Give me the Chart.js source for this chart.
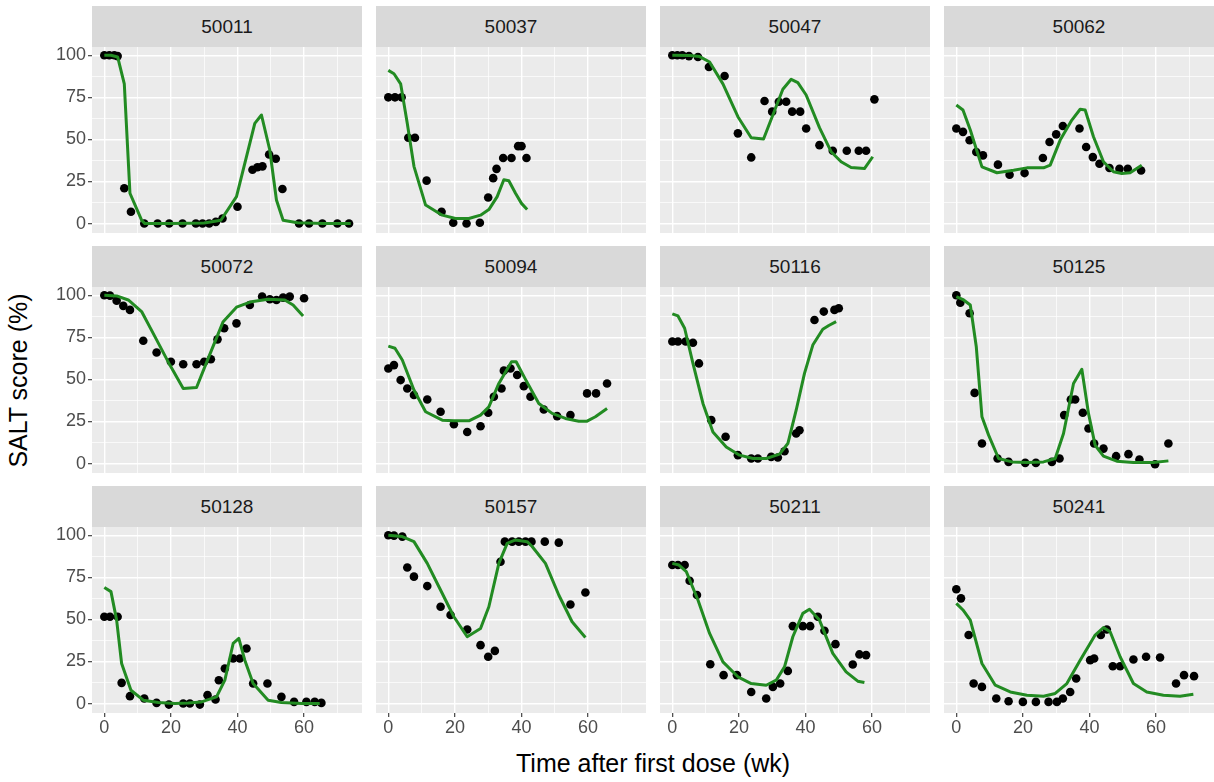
<!DOCTYPE html>
<html><head><meta charset="utf-8">
<script src="https://cdn.jsdelivr.net/npm/chart.js@4"></script>
<style>
body{margin:0;background:#fff;}
#wrap{position:relative;width:1214px;height:782px;overflow:hidden;background:#fff;font-family:"Liberation Sans",Arial,sans-serif;}
.strip{position:absolute;background:#D9D9D9;color:#1A1A1A;font-size:19px;display:flex;align-items:center;justify-content:center;}
canvas{position:absolute;}
.ttl{position:absolute;color:#000;font-size:25px;white-space:nowrap;line-height:1;}
</style></head><body><div id="wrap"></div>
<script>
const panelIds = ['50011','50037','50047','50062','50072','50094','50116','50125','50128','50157','50211','50241'];
const xTickLabels = [0,20,40,60];
const yTickLabels = [0,25,50,75,100];

const obs50011 = [[0,100],[1.5,100],[3,100],[4,99.5],[6,21],[8,7],[12,0],[16,0],[19.5,0],[23.5,0],[27.5,0],[29.5,0],[31.5,0],[33.5,1],[35.5,3],[40,10],[44.5,32],[46,33.5],[47.5,34],[49.5,41],[51.5,38.5],[53.5,20.5],[58.5,0],[61.5,0],[65.5,0],[70,0],[73.5,0]];
const fit50011 = [[0,100],[2,100],[4,99],[6,83],[7.7,18],[11.2,2],[12.2,0],[20,0],[30,0.3],[35,2],[39.7,16],[45.2,59.5],[47.2,64.5],[49.7,43.7],[51.7,14],[53.7,2],[58,0.5],[66,0],[74,0]];
const obs50037 = [[0,75],[2,75],[4,75],[6,51],[8,51],[11.5,25.5],[16,7],[19.5,0.5],[23.5,0],[27.5,0.5],[30,15.5],[31.5,27],[32.5,32.5],[34.5,39],[37,39],[39,46],[40,46],[41.5,39]];
const fit50037 = [[0,91],[1.7,89],[3.7,83],[5.7,59.5],[7.7,34],[11.2,11],[16.2,5],[20.2,3],[24.2,3],[27.7,5],[30.2,8.3],[32.7,16],[34.7,26],[36.2,25.4],[38.2,18],[40,12],[41.7,8.3]];
const obs50047 = [[0,100],[1.5,100],[3,100],[5,99.5],[7.7,99],[11,93],[15.7,87.7],[19.7,53.6],[23.7,39.3],[27.7,72.8],[30,66.5],[32,72.4],[34.2,72.4],[36,66.5],[38.4,66.5],[40.2,56.5],[44.2,46.6],[48.2,43.3],[52.4,43.3],[56,43.3],[58.2,43.3],[60.7,73.8]];
const fit50047 = [[0,100],[5.2,99.8],[8.2,99.2],[11.2,96],[15.2,83],[19.7,63.5],[23.7,51],[27.4,50.2],[30.2,64.5],[33.2,79.8],[35.7,85.7],[37.7,83.7],[40.2,76.4],[44.2,57],[47.7,42.7],[50.7,36.7],[53.7,33.3],[57.7,32.7],[60.2,39.7]];
const obs50062 = [[0,56.5],[2,54.5],[4,49.5],[6,42.5],[8,40.5],[12.5,35],[16,29],[20.5,30],[26,39],[28,48.5],[30,53],[32,58],[37,56.5],[39,45.5],[41,39.5],[43,35.5],[46,33],[49,32.5],[51.5,32.5],[55.5,31.5]];
const fit50062 = [[0,70.4],[2,67.5],[4.2,55.6],[7.7,33.7],[12.2,30.2],[17.2,31.7],[21.2,33.1],[26.2,33.1],[28.2,34.7],[31.2,49.6],[34.7,61.5],[37.2,67.9],[38.7,67.5],[41.2,51.6],[44.2,36.7],[47.2,30.8],[49.7,29.8],[52.2,30.2],[55.7,34.7]];
const obs50072 = [[0,100],[1.7,99.8],[3.7,96.8],[5.7,93.7],[7.7,91.3],[11.7,73],[15.7,66],[20,60.5],[23.7,59],[27.7,59],[30,60.5],[32,62],[34,73.8],[36,80.4],[39.7,83.3],[43.7,94.2],[47.4,99.2],[49.7,97.6],[51.7,97.2],[53.7,98.6],[55.7,99.2],[60,98.2]];
const fit50072 = [[0,100],[3.7,99.6],[7.2,97.2],[11.2,90.3],[15.2,75.4],[19.7,58.5],[23.7,44.6],[27.7,45.2],[31.2,62.5],[35.7,84.3],[39.7,92.9],[44.2,96.2],[49.2,97.6],[54.2,97.2],[56.7,94.2],[59.7,87.7]];
const obs50094 = [[0,56.5],[1.7,58.5],[3.7,49.6],[5.7,44.6],[7.7,40.7],[11.7,38.1],[15.7,30.8],[19.7,23.4],[23.7,18.8],[27.7,22.2],[30,30.2],[31.7,39.7],[34,44.6],[34.7,55.2],[36.7,56.5],[38.7,52.6],[40.7,46],[42.7,39.7],[46.7,32.1],[50.7,28.2],[54.7,28.8],[59.7,41.7],[62.4,41.7],[65.7,47.6]];
const fit50094 = [[0,69.8],[2,68.5],[4.2,61.5],[7.7,43.7],[11.2,30.8],[16.2,25.8],[19.7,25.4],[24.2,25.4],[27.7,28.8],[30.2,33.7],[33.2,47.6],[37,60.5],[38.4,60.5],[41.2,50],[45.2,35.7],[49.2,29.8],[53.2,26.8],[57.2,25.2],[59.7,25.2],[62.2,27.8],[65.7,32.7]];
const obs50116 = [[0,72.5],[1.7,72.5],[4,72.5],[6.2,71.8],[8,59.5],[11.7,25.8],[16,15.9],[19.7,5],[23.7,3],[25.7,3],[29.7,4],[31.7,3.6],[33.7,7.3],[37.2,17.9],[38.2,19.8],[42.7,85.3],[45.5,90.3],[48.7,91.3],[50,92.3]];
const fit50116 = [[0,88.9],[1.7,87.7],[3.7,80.4],[6.2,59.5],[9.2,35.7],[12.2,18.8],[16.2,9.9],[20.2,5],[24.2,3],[28.2,3],[32.2,5.6],[34.7,11.9],[37.2,31.7],[39.7,53.6],[42.2,70.4],[45.2,79.8],[47,82],[49.2,84.3]];
const obs50125 = [[0,100],[1.2,95.6],[4,89.3],[5.5,42],[7.7,11.9],[12.4,3],[15.7,1],[20.7,0.4],[23.9,0.4],[28.7,1],[31,3],[32.4,28.8],[34.4,38.1],[35.7,38.1],[38,30.2],[39.7,20.8],[41.4,11.9],[44.2,8.9],[48,4.4],[51.7,5.6],[55,2.4],[59.7,-0.4],[63.7,11.9]];
const fit50125 = [[0,99.2],[2.2,97.2],[4.2,94.2],[6,69.4],[7.7,27.8],[9.7,16.9],[12.7,3],[16.7,1],[21.2,0.6],[26.2,1],[29.7,3],[32.2,17.9],[35.2,47.6],[37.7,56],[39.7,29.8],[41.7,10.9],[44.2,4.4],[48.2,1.4],[53.2,0.6],[59.2,0.6],[63.7,1.6]];
const obs50128 = [[0,51.6],[1.7,51.6],[4,51.6],[5.2,12.3],[7.7,4.4],[12,3],[15.7,0.4],[19.4,-0.6],[23.7,0],[25.7,0],[28.7,-0.6],[31,5],[33.4,2.4],[34.4,13.9],[36.2,20.8],[38.7,26.8],[40.7,26.8],[42.7,32.7],[44.7,11.9],[49,11.9],[53.2,4],[57,1],[60.7,1],[63.2,1],[65.2,0.4]];
const fit50128 = [[0,69],[2,66.5],[3.7,49.6],[5.2,23.8],[8,7.9],[11.7,2],[16.2,0.6],[21.2,0],[25.2,0.4],[29.2,1],[33.7,4],[36.2,13.9],[38.7,35.7],[40.4,38.7],[42.2,25.8],[44.7,11.9],[49.2,2],[53.2,0.6],[59.2,0],[64.7,0]];
const obs50157 = [[0,100],[1.7,99.8],[4.2,99.2],[5.7,80.8],[7.7,75.4],[11.7,69.8],[15.7,57.5],[18.7,52.6],[23.7,44],[27.7,34.7],[30,27.8],[32,31.3],[33.7,84.3],[35,96.2],[37.2,96.2],[39.2,96.2],[41.2,96.2],[43,96.2],[47,96.2],[51.2,95.6],[54.7,58.9],[59.2,66]];
const fit50157 = [[0,100],[4.2,99.2],[7.7,96.2],[11.7,83.3],[15.2,69.4],[19.7,51.6],[23.7,39.7],[27.7,44.6],[30.2,57.5],[33.2,83.3],[35.7,95.2],[38.2,97.2],[41.7,96.2],[43.2,93.3],[47.2,83.3],[51.2,64.5],[55.2,48.6],[59.2,39.3]];
const obs50211 = [[0,82.3],[1.7,82.3],[3.7,82.3],[5.2,73],[7.4,64.5],[11.4,23.4],[15.4,16.9],[19.4,16.9],[23.7,6.9],[28.2,3],[30.2,9.9],[32.4,11.9],[34.7,19.4],[36.2,46],[39.2,46],[41.4,46],[43.7,51.6],[45.7,43.3],[49,35.3],[54.2,23.2],[56.2,29.2],[58.2,28.8]];
const fit50211 = [[0,83.3],[2,82.3],[4.2,78.4],[7.7,61.5],[11.2,41.7],[15.2,24.8],[19.7,15.9],[23.7,11.9],[28.2,10.9],[31.2,13.9],[33.7,21.8],[36.2,39.7],[39.2,53.6],[41.2,56],[44.2,49.6],[48.2,29.8],[52.2,18.8],[55.7,13.3],[57.7,12.5]];
const obs50241 = [[0,67.9],[1.4,62.5],[3.7,40.7],[5.2,11.9],[7.7,9.9],[12,3],[15.7,1.4],[20,1],[23.9,1],[27.7,1],[30.2,1],[32,3],[34.2,6.9],[36,14.9],[40.2,25.8],[41.4,26.8],[43.4,40.7],[45.2,44],[47,22.2],[49.2,22.2],[53.2,26.2],[57,27.8],[61.2,27.4],[66,11.9],[68.4,16.9],[71.4,16.3]];
const fit50241 = [[0,59.5],[2,55.6],[4.2,49.6],[7.7,23.8],[11.7,10.9],[16.2,6.9],[21.2,5],[26.2,4.4],[29.7,6],[33.2,11.9],[37.2,25.8],[41.7,40.7],[44.2,45.2],[46.2,42.7],[49.2,27.8],[53.2,11.9],[57.2,6.9],[62.2,5],[67.2,4.4],[71.2,5.6]];

const observed = [obs50011,obs50037,obs50047,obs50062,obs50072,obs50094,obs50116,obs50125,obs50128,obs50157,obs50211,obs50241];
const fitted = [fit50011,fit50037,fit50047,fit50062,fit50072,fit50094,fit50116,fit50125,fit50128,fit50157,fit50211,fit50241];

const FONT = '"Liberation Sans", Arial, sans-serif';
const wrap = document.getElementById('wrap');
const X_MIN = -3.7, X_MAX = 77.4, Y_MIN = -5.6, Y_MAX = 104.9;
const COL_L = [92, 376, 660, 944], ROW_T = [47, 287, 527];
const PW = 270, PH = 186;

const bgPlugin = {
  id: 'panelbg',
  beforeDraw(chart) {
    const a = chart.chartArea, c = chart.ctx;
    c.save(); c.fillStyle = '#EBEBEB';
    c.fillRect(a.left, a.top, a.right - a.left, a.bottom - a.top);
    c.restore();
  }
};

panelIds.forEach((id, i) => {
  const col = i % 4, row = Math.floor(i / 4);
  const pl = COL_L[col], pt = ROW_T[row];
  const lm = col === 0 ? 52 : 0, bm = row === 2 ? 30 : 0;

  const strip = document.createElement('div');
  strip.className = 'strip';
  strip.style.left = pl + 'px'; strip.style.top = (pt - 41) + 'px';
  strip.style.width = PW + 'px'; strip.style.height = '41px';
  strip.textContent = id;
  wrap.appendChild(strip);

  const cv = document.createElement('canvas');
  cv.width = PW + lm; cv.height = PH + bm;
  cv.style.left = (pl - lm) + 'px'; cv.style.top = pt + 'px';
  cv.style.width = (PW + lm) + 'px'; cv.style.height = (PH + bm) + 'px';
  wrap.appendChild(cv);

  new Chart(cv, {
    type: 'scatter',
    data: { datasets: [
      { type: 'line', data: fitted[i].map(p => ({x: p[0], y: p[1]})), borderColor: '#228B22', borderWidth: 3,
        pointRadius: 0, fill: false, tension: 0, order: 0, borderJoinStyle: 'round', borderCapStyle: 'butt' },
      { type: 'scatter', data: observed[i].map(p => ({x: p[0], y: p[1]})), backgroundColor: '#000000',
        borderWidth: 0, pointRadius: 4.3, order: 1 }
    ]},
    options: {
      responsive: false, animation: false, events: [], devicePixelRatio: 1,
      layout: { padding: 0, autoPadding: false },
      plugins: { legend: { display: false }, tooltip: { enabled: false } },
      scales: {
        x: {
          type: 'linear', min: X_MIN, max: X_MAX,
          afterFit: s => { s.height = bm; s.paddingLeft = 0; s.paddingRight = 0; s.paddingTop = 0; s.paddingBottom = 0; },
          border: { display: false },
          ticks: { stepSize: 10, includeBounds: false, display: row === 2, autoSkip: false, maxRotation: 0,
            color: '#4D4D4D', font: { size: 18, family: FONT }, padding: 0,
            callback: v => xTickLabels.includes(v) ? String(v) : '' },
          grid: { color: '#FFFFFF', lineWidth: c => (c.tick && xTickLabels.includes(c.tick.value)) ? 1.4 : 0.7,
            drawTicks: row === 2, tickLength: 4, tickWidth: 1.1,
            tickColor: c => (c.tick && xTickLabels.includes(c.tick.value)) ? '#333333' : 'rgba(0,0,0,0)' }
        },
        y: {
          type: 'linear', min: Y_MIN, max: Y_MAX,
          afterFit: s => { s.width = lm; s.paddingLeft = 0; s.paddingRight = 0; s.paddingTop = 0; s.paddingBottom = 0; },
          border: { display: false },
          ticks: { stepSize: 12.5, includeBounds: false, display: col === 0, autoSkip: false,
            color: '#4D4D4D', font: { size: 18, family: FONT }, padding: 2,
            callback: v => yTickLabels.includes(v) ? String(v) : '' },
          grid: { color: '#FFFFFF', lineWidth: c => (c.tick && yTickLabels.includes(c.tick.value)) ? 1.4 : 0.7,
            drawTicks: col === 0, tickLength: 4, tickWidth: 1.1,
            tickColor: c => (c.tick && yTickLabels.includes(c.tick.value)) ? '#333333' : 'rgba(0,0,0,0)' }
        }
      }
    },
    plugins: [bgPlugin]
  });
});

const xt = document.createElement('div');
xt.className = 'ttl'; xt.textContent = 'Time after first dose (wk)';
wrap.appendChild(xt);
xt.style.left = (653 - xt.offsetWidth / 2) + 'px'; xt.style.top = (763 - xt.offsetHeight / 2) + 'px';

const yt = document.createElement('div');
yt.className = 'ttl'; yt.textContent = 'SALT score (%)';
wrap.appendChild(yt);
const yw = yt.offsetWidth, yh = yt.offsetHeight;
yt.style.left = (18 - yw / 2) + 'px'; yt.style.top = (380 - yh / 2) + 'px';
yt.style.transform = 'rotate(-90deg)';
</script>
</body></html>
